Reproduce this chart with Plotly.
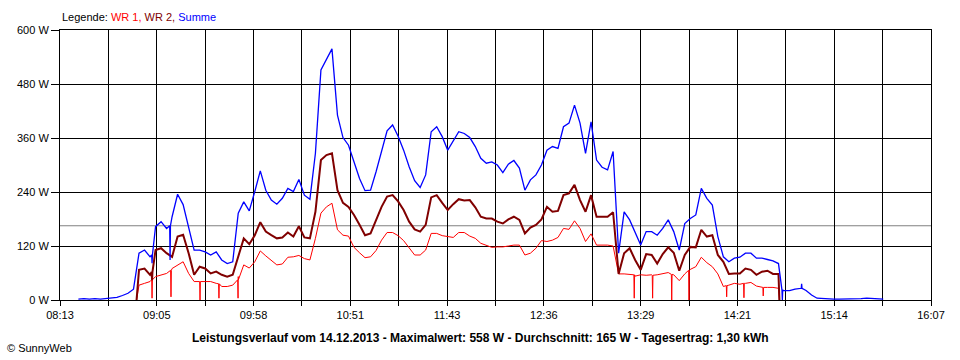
import pandas as pd
import plotly.graph_objects as go

DAY = "2013-12-14"

# ---- sample times (3-minute logger grid) ----
times = [
    "08:23", "08:26", "08:29", "08:32", "08:35", "08:38", "08:41", "08:44", "08:47", "08:50",
    "08:53", "08:56", "08:59", "09:02", "09:05", "09:08", "09:11", "09:14", "09:17", "09:20",
    "09:23", "09:26", "09:29", "09:32", "09:35", "09:38", "09:41", "09:44", "09:47", "09:50",
    "09:53", "09:56", "09:59", "10:02", "10:05", "10:08", "10:11", "10:14", "10:17", "10:20",
    "10:23", "10:26", "10:29", "10:32", "10:35", "10:38", "10:41", "10:44", "10:47", "10:50",
    "10:53", "10:56", "10:59", "11:02", "11:05", "11:08", "11:11", "11:14", "11:17", "11:20",
    "11:23", "11:26", "11:29", "11:32", "11:35", "11:38", "11:41", "11:44", "11:47", "11:50",
    "11:53", "11:56", "11:59", "12:02", "12:05", "12:08", "12:11", "12:14", "12:17", "12:20",
    "12:23", "12:26", "12:29", "12:32", "12:35", "12:38", "12:41", "12:44", "12:47", "12:50",
    "12:53", "12:56", "12:59", "13:02", "13:05", "13:08", "13:11", "13:14", "13:17", "13:20",
    "13:23", "13:26", "13:29", "13:32", "13:35", "13:38", "13:41", "13:44", "13:47", "13:50",
    "13:53", "13:56", "13:59", "14:02", "14:05", "14:08", "14:11", "14:14", "14:17", "14:20",
    "14:23", "14:26", "14:29", "14:32", "14:35", "14:38", "14:41", "14:44", "14:47", "14:50",
    "14:53", "14:56", "14:59", "15:02", "15:05", "15:08", "15:11", "15:14", "15:17", "15:20",
    "15:23", "15:26", "15:29", "15:32", "15:35", "15:38", "15:41",
]

# Summe (W), one value per entry of `times`
summe = [
    2, 3, 2, 3, 2, 3, 4, 6, 10, 15,
    24, 104, 111, 96, 163, 174, 159, 185, 235, 212,
    163, 111, 111, 107, 100, 107, 89, 81, 85, 193,
    218, 198, 241, 287, 244, 222, 213, 226, 248, 241,
    268, 233, 224, 326, 511, 533, 558, 411, 361, 344,
    307, 270, 243, 244, 285, 333, 376, 389, 364, 333,
    296, 265, 250, 278, 374, 385, 363, 333, 352, 374,
    370, 361, 341, 315, 304, 307, 300, 283, 302, 310,
    293, 244, 267, 278, 300, 333, 341, 337, 385, 393,
    433, 393, 326, 396, 311, 295, 289, 330, 104, 196,
    178, 148, 122, 152, 152, 144, 159, 178, 152, 111,
    170, 181, 189, 248, 226, 211, 141, 96, 85, 93,
    95, 104, 104, 93, 93, 90, 87, 81, 21, 21,
    24, 26, 21, 11, 4, 3, 3, 2, 2, 2,
    2, 3, 3, 4, 3, 2, 2,
]

# Inverters report from 08:56 to 14:44 (same 3-minute grid)
wr_times = times[11:128]

# WR 1 (W)
wr1 = [
    33, 37, 41, 52, 56, 59, 70, 78, 85, 59,
    41, 41, 41, 41, 37, 30, 30, 33, 52, 78,
    71, 85, 109, 98, 87, 78, 80, 95, 96, 99,
    92, 89, 137, 193, 207, 215, 156, 144, 142, 117,
    105, 94, 96, 110, 133, 150, 150, 143, 132, 116,
    100, 100, 111, 148, 148, 143, 141, 139, 150, 150,
    142, 137, 126, 121, 117, 118, 118, 120, 122, 122,
    100, 104, 115, 132, 130, 133, 139, 159, 157, 176,
    159, 130, 147, 122, 122, 122, 120, 58, 58, 56,
    53, 56, 55, 56, 56, 59, 61, 56, 43, 58,
    68, 74, 95, 83, 74, 58, 30, 33, 37, 35,
    37, 39, 31, 28, 28, 28, 26,
]

# WR 2 (W)
wr2 = [
    67, 70, 56, 111, 115, 104, 96, 141, 145, 104,
    56, 74, 70, 59, 63, 56, 52, 56, 96, 137,
    124, 144, 173, 152, 144, 137, 139, 150, 141, 164,
    139, 137, 196, 311, 322, 326, 244, 216, 207, 189,
    167, 144, 148, 176, 207, 230, 233, 219, 200, 174,
    157, 152, 167, 228, 233, 216, 200, 213, 224, 221,
    222, 206, 185, 181, 181, 174, 170, 179, 185, 178,
    148, 161, 167, 179, 207, 196, 198, 233, 237, 256,
    222, 196, 233, 185, 185, 185, 195, 58, 104, 115,
    89, 67, 102, 100, 81, 102, 117, 105, 65, 100,
    118, 117, 156, 141, 144, 100, 85, 58, 59, 59,
    70, 67, 56, 63, 65, 58, 58,
]

# Start / stop readings of the inverters
wr_start = "08:54:40"
wr_stop = "14:44:30"

# Short drop-outs: time, value in the drop, level right before/after it
wr1_dip_times = ["09:03:06", "09:13:24", "09:29:12", "09:39:30", "09:49:54", "13:25:30",
                 "13:35:30", "13:45:54", "13:55:18", "14:15:48", "14:25:12", "14:35:42"]
wr1_dip_values = [4, 7, 0, 4, 4, 4, 4, 0, 0, 7, 5, 9]
wr1_dip_levels = [45, 66, 41, 36, 45, 56, 55, 57, 66, 32, 37, 28]

wr2_dip_times = ["09:03:06"]
wr2_dip_values = [44]
wr2_dip_levels = [62]

summe_dip_times = ["09:03:06", "09:12:54", "14:46:06", "14:56:36"]
summe_dip_values = [82, 89, 0, 36]
summe_dip_levels = [100, 165, 22, 26]

# Day statistics
max_value = 558
avg_value = 165
day_yield = "1,30"

# Axis ticks
tick_times = ["08:13:00", "08:39:20", "09:05:40", "09:32:00", "09:58:20", "10:24:40",
              "10:51:00", "11:17:20", "11:43:40", "12:10:00", "12:36:20", "13:02:40",
              "13:29:00", "13:55:20", "14:21:40", "14:48:00", "15:14:20", "15:40:40",
              "16:07:00"]
tick_labels = ["08:13", "", "09:05", "", "09:58", "", "10:51", "", "11:43", "",
               "12:36", "", "13:29", "", "14:21", "", "15:14", "", "16:07"]
y_ticks = [0, 120, 240, 360, 480, 600]
y_labels = [f"{v} W" for v in y_ticks]

COL_WR1 = "#FF0000"
COL_WR2 = "#800000"
COL_SUM = "#0000FF"
FONT = "Liberation Sans, Arial, sans-serif"
DIP_HALF = pd.Timedelta(seconds=12)


def ts(t):
    return pd.Timestamp(f"{DAY} {t}")


def build(tlist, vlist, dip_t, dip_v, dip_l, extra=()):
    pts = [(ts(t), v) for t, v in zip(tlist, vlist)]
    for t, v, lvl in zip(dip_t, dip_v, dip_l):
        c = ts(t)
        pts += [(c - DIP_HALF, lvl), (c, v), (c + DIP_HALF, lvl)]
    pts += [(ts(t), v) for t, v in extra]
    pts.sort(key=lambda p: p[0])
    return [p[0] for p in pts], [p[1] for p in pts]


x1, y1 = build(wr_times, wr1, wr1_dip_times, wr1_dip_values, wr1_dip_levels,
               extra=[(wr_start, 0), (wr_stop, 0)])
x2, y2 = build(wr_times, wr2, wr2_dip_times, wr2_dip_values, wr2_dip_levels,
               extra=[(wr_start, 0), (wr_stop, 0)])
xs, ys = build(times, summe, summe_dip_times, summe_dip_values, summe_dip_levels)

fig = go.Figure()
fig.add_trace(go.Scatter(x=x1, y=y1, mode="lines", name="WR 1",
                         line=dict(color=COL_WR1, width=1)))
fig.add_trace(go.Scatter(x=x2, y=y2, mode="lines", name="WR 2",
                         line=dict(color=COL_WR2, width=2)))
fig.add_trace(go.Scatter(x=xs, y=ys, mode="lines", name="Summe",
                         line=dict(color=COL_SUM, width=1.3)))

# average line
fig.add_shape(type="line", xref="paper", x0=0, x1=1, yref="y", y0=avg_value, y1=avg_value,
              line=dict(color="#808080", width=1), layer="below")

fig.update_layout(
    width=960, height=360,
    margin=dict(l=60, r=29, t=30, b=60),
    paper_bgcolor="white", plot_bgcolor="white",
    showlegend=False,
    font=dict(family=FONT, size=11, color="black"),
    hovermode=False,
)
fig.update_xaxes(
    type="date",
    range=[ts("08:13"), ts("16:07")],
    tickmode="array", tickvals=[ts(t) for t in tick_times], ticktext=tick_labels,
    showgrid=True, gridcolor="black", gridwidth=1,
    ticks="outside", ticklen=5, tickcolor="black", tickwidth=1,
    showline=True, linecolor="black", linewidth=1, mirror=True, zeroline=False,
    tickfont=dict(family=FONT, size=11, color="black"),
)
fig.update_yaxes(
    range=[0, 600],
    tickmode="array", tickvals=y_ticks, ticktext=y_labels,
    showgrid=True, gridcolor="black", gridwidth=1,
    ticks="outside", ticklen=8, tickcolor="black", tickwidth=1,
    showline=True, linecolor="black", linewidth=1, mirror=True, zeroline=False,
    tickfont=dict(family=FONT, size=11, color="black"),
)

fig.add_annotation(
    xref="paper", yref="paper", x=0, y=1, xanchor="left", yanchor="bottom", yshift=5,
    showarrow=False, align="left",
    text=(f"Legende: <span style='color:{COL_WR1}'>WR 1, </span>"
          f"<span style='color:{COL_WR2}'>WR 2, </span>"
          f"<span style='color:{COL_SUM}'>Summe</span>"),
    font=dict(family=FONT, size=11, color="black"),
)
fig.add_annotation(
    xref="paper", yref="paper", x=(480 - 60) / 871, y=0, xanchor="center", yanchor="top",
    yshift=-29, showarrow=False,
    text=(f"<b>Leistungsverlauf vom 14.12.2013 - Maximalwert: {max_value} W - "
          f"Durchschnitt: {avg_value} W - Tagesertrag: {day_yield} kWh</b>"),
    font=dict(family=FONT, size=12, color="black"),
)
fig.add_annotation(
    xref="paper", yref="paper", x=-55 / 871, y=0, xanchor="left", yanchor="top",
    yshift=-40, showarrow=False,
    text="© SunnyWeb",
    font=dict(family=FONT, size=11, color="black"),
)

fig.write_html("out.html", config={"displayModeBar": False},
               post_script="document.body.style.margin='0';")
